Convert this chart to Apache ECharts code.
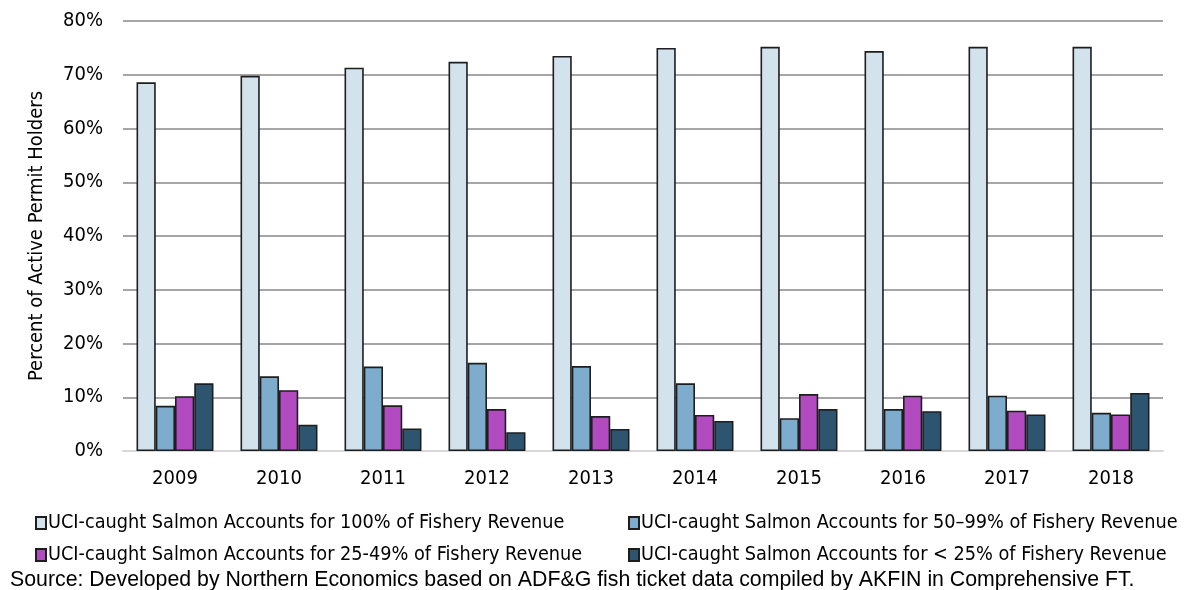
<!DOCTYPE html>
<html>
<head>
<meta charset="utf-8">
<script src="https://cdn.jsdelivr.net/npm/echarts@6/dist/echarts.min.js"></script>
<style>
  html, body { margin: 0; padding: 0; background: #fff; }
  #main { width: 1185px; height: 590px; }
</style>
</head>
<body>
<div id="main"></div>
<script>
// 数据
var years = ['2009', '2010', '2011', '2012', '2013', '2014', '2015', '2016', '2017', '2018'];
var yTicks = ['0%', '10%', '20%', '30%', '40%', '50%', '60%', '70%', '80%'];
var seriesNames = [
    'UCI-caught Salmon Accounts for 100% of Fishery Revenue',
    'UCI-caught Salmon Accounts for 50\u201399% of Fishery Revenue',
    'UCI-caught Salmon Accounts for 25-49% of Fishery Revenue',
    'UCI-caught Salmon Accounts for < 25% of Fishery Revenue'
];
var full100 = [68.6, 69.8, 71.3, 72.4, 73.5, 75.0, 75.2, 74.4, 75.2, 75.2];
var part50 = [8.4, 13.9, 15.7, 16.4, 15.8, 12.6, 6.1, 7.8, 10.3, 7.1];
var part25 = [10.2, 11.3, 8.5, 7.8, 6.5, 6.7, 10.6, 10.3, 7.5, 6.8];
var under25 = [12.6, 4.9, 4.2, 3.5, 4.1, 5.6, 7.8, 7.4, 6.8, 10.8];

var colors = ['#d3e3ed', '#7eaccc', '#b24bbf', '#2d5570'];
var narrow = '"Liberation Sans Narrow", "Arial Narrow", "DejaVu Sans Condensed", sans-serif';

var chart = echarts.init(document.getElementById('main'));

function legendAt(name, left, top) {
    return {
        data: [name],
        left: left,
        top: top,
        icon: 'rect',
        itemWidth: 10,
        itemHeight: 12,
        itemGap: 4,
        textStyle: { color: '#000', fontSize: 19.7, fontFamily: narrow, padding: [0, 0, 0, -3] }
    };
}

function bar(i, values) {
    return {
        name: seriesNames[i],
        type: 'bar',
        data: values,
        barGap: '0%',
        barCategoryGap: '26%',
        itemStyle: { color: colors[i], borderColor: '#1e1e1e', borderWidth: 1.6 },
        emphasis: { disabled: true }
    };
}

var option = {
    animation: false,
    title: {
        text: 'Source: Developed by Northern Economics based on ADF&G fish ticket data compiled by AKFIN in Comprehensive FT.',
        left: 10,
        top: 570,
        padding: 0,
        textStyle: { color: '#000', fontSize: 21.3, fontWeight: 'normal', fontFamily: '"Liberation Sans", Arial, sans-serif' }
    },
    legend: [
        legendAt(seriesNames[0], 30, 508),
        legendAt(seriesNames[1], 623, 508),
        legendAt(seriesNames[2], 30, 540),
        legendAt(seriesNames[3], 623, 540)
    ],
    grid: { left: 123, right: 22, top: 21, bottom: 139 },
    xAxis: {
        type: 'category',
        data: years,
        axisLine: { show: true, lineStyle: { color: '#d9d9d9', width: 2 } },
        axisTick: { show: false },
        axisLabel: { color: '#000', fontSize: 20, fontFamily: narrow, margin: 18 }
    },
    yAxis: {
        type: 'value',
        min: 0,
        max: 80,
        interval: 10,
        name: 'Percent of Active Permit Holders',
        nameLocation: 'middle',
        nameGap: 76,
        nameTextStyle: { color: '#000', fontSize: 20, fontFamily: narrow },
        axisLine: { show: false },
        axisTick: { show: false },
        axisLabel: {
            color: '#000',
            fontSize: 20,
            fontFamily: narrow,
            margin: 20,
            formatter: function (v) { return yTicks[Math.round(v / 10)]; }
        },
        splitLine: { lineStyle: { color: '#a6a6a6', width: 2 } }
    },
    series: [
        bar(0, full100),
        bar(1, part50),
        bar(2, part25),
        bar(3, under25)
    ]
};

chart.setOption(option);
</script>
</body>
</html>
